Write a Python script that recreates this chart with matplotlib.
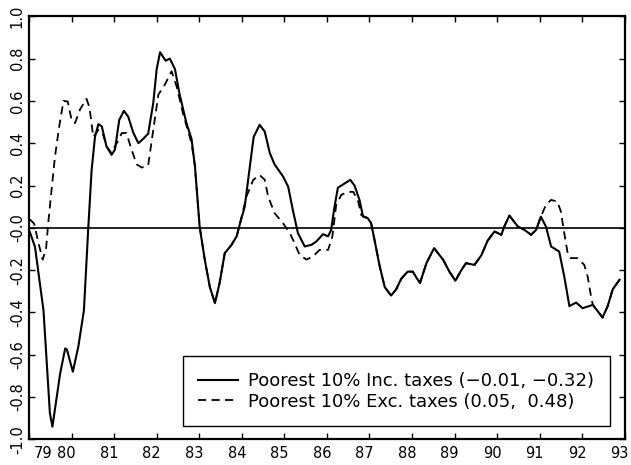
import numpy as np
import matplotlib
matplotlib.use("Agg")
import matplotlib.pyplot as plt
import matplotlib.transforms as mtransforms

# Poorest 10%, including taxes (solid line)
x_inc = [79.02, 79.14, 79.34, 79.49, 79.55, 79.73, 79.85, 79.89, 80.03, 80.16,
         80.29, 80.39, 80.47, 80.55, 80.63, 80.71, 80.82, 80.94, 81.02, 81.12,
         81.23, 81.33, 81.45, 81.57, 81.68, 81.80, 81.92, 82.00, 82.08, 82.21,
         82.31, 82.43, 82.54, 82.70, 82.82, 82.90, 83.01, 83.13, 83.25, 83.37,
         83.48, 83.60, 83.76, 83.88, 83.95, 84.07, 84.19, 84.28, 84.42, 84.54,
         84.66, 84.77, 84.97, 85.09, 85.20, 85.32, 85.48, 85.64, 85.75, 85.91,
         86.03, 86.10, 86.18, 86.26, 86.42, 86.55, 86.65, 86.77, 86.85, 86.96,
         87.04, 87.12, 87.24, 87.36, 87.51, 87.63, 87.75, 87.90, 88.02, 88.12,
         88.19, 88.34, 88.52, 88.73, 88.88, 89.02, 89.16, 89.27, 89.47, 89.63,
         89.78, 89.94, 90.10, 90.17, 90.29, 90.49, 90.64, 90.80, 90.92, 91.03,
         91.15, 91.27, 91.46, 91.58, 91.70, 91.86, 92.01, 92.25, 92.37, 92.48,
         92.60, 92.72, 92.88]
y_inc = [-0.02, -0.09, -0.39, -0.875, -0.94, -0.69, -0.57, -0.575, -0.68, -0.56,
         -0.39, -0.01, 0.27, 0.43, 0.49, 0.48, 0.385, 0.345, 0.37, 0.51,
         0.553, 0.526, 0.45, 0.40, 0.42, 0.445, 0.59, 0.75, 0.83, 0.79,
         0.80, 0.75, 0.63, 0.495, 0.42, 0.29, 0.006, -0.15, -0.28, -0.356,
         -0.26, -0.12, -0.08, -0.04, 0.014, 0.10, 0.29, 0.43, 0.487, 0.455,
         0.353, 0.30, 0.243, 0.195, 0.085, -0.025, -0.088, -0.08, -0.065, -0.03,
         -0.04, -0.01, 0.10, 0.19, 0.21, 0.227, 0.20, 0.13, 0.053, 0.046,
         0.022, -0.057, -0.18, -0.28, -0.32, -0.29, -0.24, -0.207, -0.207, -0.24,
         -0.26, -0.167, -0.096, -0.15, -0.207, -0.25, -0.20, -0.167, -0.175, -0.13,
         -0.06, -0.017, -0.033, 0.006, 0.058, 0.006, -0.009, -0.033, -0.009, 0.053,
         0.006, -0.088, -0.112, -0.23, -0.37, -0.353, -0.38, -0.364, -0.395, -0.424,
         -0.37, -0.29, -0.245]

# Poorest 10%, excluding taxes (dashed line) -- only where it differs from solid
x_exc_a = [79.02, 79.12, 79.22, 79.32, 79.40, 79.45, 79.53, 79.61, 79.71, 79.81,
           79.91, 80.00, 80.08, 80.20, 80.35, 80.42, 80.51, 80.63, 80.74, 80.84,
           80.94, 81.06, 81.18, 81.29, 81.41, 81.53, 81.65, 81.80, 81.92, 82.04,
           82.19, 82.35, 82.47, 82.62, 82.82]
y_exc_a = [0.04, 0.02, -0.07, -0.15, -0.10, 0.02, 0.18, 0.337, 0.48, 0.60,
           0.597, 0.51, 0.495, 0.56, 0.61, 0.57, 0.43, 0.463, 0.44, 0.38,
           0.353, 0.40, 0.448, 0.448, 0.37, 0.30, 0.285, 0.295, 0.463, 0.63,
           0.676, 0.74, 0.668, 0.54, 0.40]
x_exc_b = [84.11, 84.27, 84.42, 84.54, 84.62, 84.77, 84.97, 85.13, 85.24, 85.36,
           85.52, 85.67, 85.83, 86.03, 86.13, 86.22, 86.34, 86.50, 86.62, 86.73,
           86.81]
y_exc_b = [0.148, 0.227, 0.25, 0.227, 0.148, 0.07, 0.022, -0.025, -0.072, -0.128,
           -0.15, -0.136, -0.104, -0.104, -0.04, 0.11, 0.156, 0.17, 0.17, 0.13,
           0.06]
x_exc_c = [91.15, 91.27, 91.42, 91.50, 91.58, 91.66, 91.73, 91.89, 92.05, 92.13,
           92.21]
y_exc_c = [0.109, 0.132, 0.124, 0.077, -0.025, -0.12, -0.143, -0.143, -0.175, -0.23,
           -0.325]

year_ticks = list(range(79, 94))
y_ticks = [1.0, 0.8, 0.6, 0.4, 0.2, 0.0, -0.2, -0.4, -0.6, -0.8, -1.0]
y_ticklabels = ["1.0", "0.8", "0.6", "0.4", "0.2", "-0.0",
                "-0.2", "-0.4", "-0.6", "-0.8", "-1.0"]
label_inc = "Poorest 10% Inc. taxes (\u22120.01, \u22120.32)"
label_exc = "Poorest 10% Exc. taxes (0.05,  0.48)"

# dashed series shares the solid one outside its own segments
xi = np.array(x_inc)
yi = np.array(y_inc)
m1 = (xi > 82.85) & (xi < 84.0)
m2 = (xi > 86.9) & (xi < 91.1)
m3 = xi > 92.22
x_exc = np.concatenate([x_exc_a, xi[m1], x_exc_b, xi[m2], x_exc_c, xi[m3]])
y_exc = np.concatenate([y_exc_a, yi[m1], y_exc_b, yi[m2], y_exc_c, yi[m3]])

plt.rcParams['font.family'] = ['DejaVu Sans']
fig = plt.figure(figsize=(6.31, 4.65), dpi=100)
ax = fig.add_axes([0.046, 0.055, 0.944, 0.91])

ax.plot(x_inc, y_inc, color='black', lw=1.5, label=label_inc)
ax.plot(x_exc, y_exc, color='black', lw=1.3, linestyle=(0, (4.5, 3)), label=label_exc)
ax.axhline(0, color='black', lw=1.2)

ax.set_xlim(79, 93)
ax.set_ylim(-1.0, 1.0)
ax.set_xticks(year_ticks)
ax.set_xticklabels([str(t) for t in year_ticks], fontsize=10.5)
ax.set_yticks(y_ticks)
ax.set_yticklabels(y_ticklabels, fontsize=10.5, rotation=90, va='center')
ax.tick_params(direction='in', length=4, width=1, top=True, right=True, pad=3)
ax.tick_params(axis='x', pad=5)
for s in ax.spines.values():
    s.set_linewidth(1.6)

# labels sit a bit left of their ticks, the first one pushed right
for lab in ax.get_xticklabels():
    dx = 0.14 if lab.get_text() == "79" else -0.05
    lab.set_transform(lab.get_transform() +
                      mtransforms.ScaledTranslation(dx, 0, fig.dpi_scale_trans))

leg = ax.legend(loc='lower right', bbox_to_anchor=(0.975, 0.032), fontsize=13,
                frameon=True, fancybox=False, framealpha=1, edgecolor='black',
                handlelength=2.2, handletextpad=0.6, labelspacing=0.15,
                borderpad=0.85, borderaxespad=0)
leg.get_frame().set_linewidth(1.0)

fig.savefig("out.png", dpi=100)
